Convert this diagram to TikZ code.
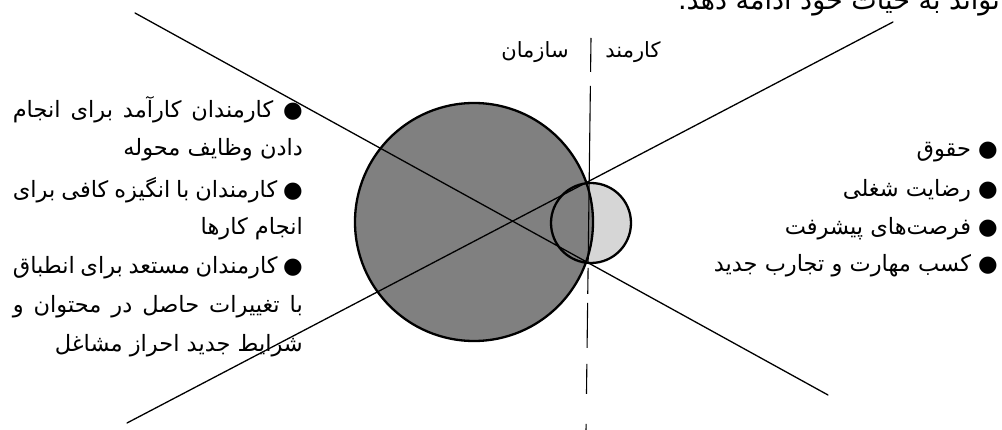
\documentclass[tikz,border=0pt]{standalone}
\usepackage{fontspec}
\TeXXeTstate=1
\newfontfamily\arabicfont[Script=Arabic]{DejaVu Sans}
\newcommand{\fa}[1]{\arabicfont\beginR #1\endR}
\newcommand{\faj}[1]{\makebox[290pt][s]{\arabicfont\beginR #1\endR}}
\begin{document}
\begin{tikzpicture}[x=1pt,y=-1pt,
  txt/.style={inner sep=0pt, font=\fontsize{22.5}{26}\selectfont},
  lbl/.style={inner sep=0pt, font=\fontsize{21}{24}\selectfont},
  body/.style={inner sep=0pt, font=\fontsize{27}{30}\selectfont},
  ray/.style={line width=1.3pt, line cap=round},
  ring/.style={line width=2.3pt}]
\useasboundingbox (0,0) rectangle (1002,430);
\fill[white] (0,0) rectangle (1002,430);
\clip (0,0) rectangle (1002,430);

% circles
\coordinate (bigc) at (474,222);
\coordinate (smc) at (591,223);
\fill[black!16] (smc) circle (40);
\fill[black!50] (bigc) circle (119);
\draw[ring] (bigc) circle (119);
\draw[ring] (smc) circle (40);

% rays
\coordinate (l1a) at (135,13);
\coordinate (l1b) at (828,395);
\coordinate (l2a) at (127,423);
\coordinate (l2b) at (893,22);
\draw[ray] (l1a) -- (l1b);
\draw[ray] (l2a) -- (l2b);

% vertical divider
\coordinate (vt) at (591,38);
\coordinate (vb) at (586,432);
\draw[line width=1.1pt, dash pattern=on 34pt off 14pt on 176pt off 6pt on 26pt off 9pt on 45pt off 16pt on 30pt off 30pt on 20pt] (vt) -- (vb);

% headings
\node[lbl] (org) at (535,52) {\fa{سازمان}};
\node[lbl] (emp) at (633,52) {\fa{کارمند}};

% top cut text
\node[body, anchor=base east] (top) at (1000,10) {\fa{تواند به حیات خود ادامه دهد.}};

% left list
\node[txt, anchor=east] (a1) at (303,110) {\faj{● کارمندان کارآمد برای انجام}};
\node[txt, anchor=east] (a2) at (303,150) {\fa{دادن وظایف محوله}};
\node[txt, anchor=east] (a3) at (303,190) {\faj{● کارمندان با انگیزه کافی برای}};
\node[txt, anchor=east] (a4) at (303,229) {\fa{انجام کارها}};
\node[txt, anchor=east] (a5) at (303,268) {\faj{● کارمندان مستعد برای انطباق}};
\node[txt, anchor=east] (a6) at (303,307) {\faj{با تغییرات حاصل در محتوان و}};
\node[txt, anchor=east] (a7) at (303,346) {\fa{شرایط جدید احراز مشاغل}};

% right list
\node[txt, anchor=east] (b1) at (998,152) {\fa{● حقوق}};
\node[txt, anchor=east] (b2) at (998,191) {\fa{● رضایت شغلی}};
\node[txt, anchor=east] (b3) at (998,229) {\fa{● فرصت‌های پیشرفت}};
\node[txt, anchor=east] (b4) at (998,266) {\fa{● کسب مهارت و تجارب جدید}};
\end{tikzpicture}
\end{document}
